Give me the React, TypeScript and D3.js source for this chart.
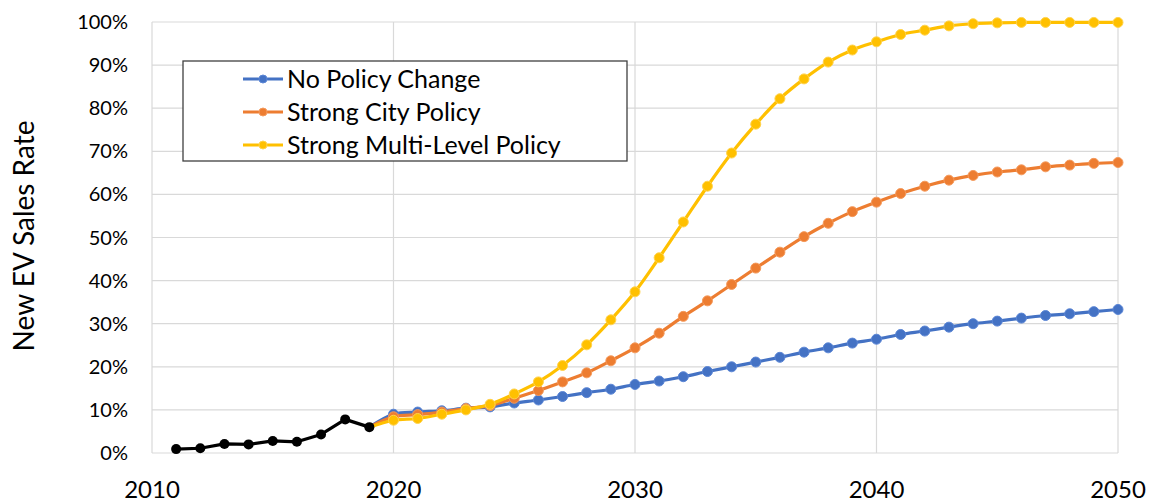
import React from "react";
import * as d3 from "d3";

const histYears = [2011, 2012, 2013, 2014, 2015, 2016, 2017, 2018, 2019];
const histValues = [0.9, 1.1, 2.1, 2.0, 2.8, 2.6, 4.3, 7.8, 6.0];

const projYears = [2019, 2020, 2021, 2022, 2023, 2024, 2025, 2026, 2027, 2028, 2029, 2030, 2031, 2032, 2033, 2034, 2035, 2036, 2037, 2038, 2039, 2040, 2041, 2042, 2043, 2044, 2045, 2046, 2047, 2048, 2049, 2050];

const noPolicy = [6.0, 9.0, 9.5, 9.8, 10.4, 10.7, 11.6, 12.3, 13.1, 14.0, 14.8, 15.9, 16.7, 17.7, 18.9, 20.0, 21.1, 22.2, 23.4, 24.4, 25.5, 26.4, 27.5, 28.3, 29.2, 30.0, 30.6, 31.3, 31.9, 32.3, 32.8, 33.3];
const cityPolicy = [6.0, 8.4, 8.9, 9.5, 10.3, 11.0, 12.7, 14.5, 16.5, 18.6, 21.4, 24.4, 27.8, 31.7, 35.3, 39.1, 42.9, 46.6, 50.2, 53.3, 56.0, 58.2, 60.2, 61.9, 63.3, 64.4, 65.2, 65.7, 66.4, 66.8, 67.2, 67.4];
const multiPolicy = [6.0, 7.6, 8.0, 9.0, 10.0, 11.3, 13.7, 16.5, 20.3, 25.1, 30.9, 37.4, 45.3, 53.6, 61.9, 69.6, 76.3, 82.2, 86.8, 90.7, 93.5, 95.4, 97.1, 98.1, 99.1, 99.6, 99.8, 99.9, 99.9, 99.9, 99.9, 99.9];

const xTicks = [2010, 2020, 2030, 2040, 2050];
const yTicks = [0, 10, 20, 30, 40, 50, 60, 70, 80, 90, 100];

const seriesNames = ["No Policy Change", "Strong City Policy", "Strong Multi-Level Policy"];
const seriesColors = ["#4472C4", "#ED7D31", "#FFC000"];
const markerStroke = ["#5b86d6", "#f59a5c", "#ffd34d"];

const W = 1151;
const H = 502;
const FONT = "Lato, 'Open Sans', sans-serif";

export default function App() {
  const x = d3.scaleLinear().domain([2010, 2050]).range([152, 1118]);
  const y = d3.scaleLinear().domain([0, 100]).range([453, 22]);

  const smooth = d3
    .line<[number, number]>()
    .x((d) => x(d[0]))
    .y((d) => y(d[1]))
    .curve(d3.curveCatmullRom.alpha(0.5));
  const straight = d3
    .line<[number, number]>()
    .x((d) => x(d[0]))
    .y((d) => y(d[1]));

  const all = [noPolicy, cityPolicy, multiPolicy];
  const hist: [number, number][] = histYears.map((yr, i) => [yr, histValues[i]]);

  return (
    <svg width={W} height={H} style={{ position: "absolute", left: 0, top: 0, background: "#fff" }}>
      <rect x={0} y={0} width={W} height={H} fill="#fff" />
      {/* grid */}
      {yTicks.map((t) => (
        <line key={"gy" + t} x1={x(2010)} x2={x(2050)} y1={y(t)} y2={y(t)} stroke="#d9d9d9" strokeWidth={1.2} />
      ))}
      {xTicks.map((t) => (
        <line key={"gx" + t} x1={x(t)} x2={x(t)} y1={y(0)} y2={y(100)} stroke="#d9d9d9" strokeWidth={1.2} />
      ))}
      {/* y tick labels */}
      {yTicks.map((t) => (
        <text key={"ty" + t} x={128} y={y(t)} dy="0.35em" textAnchor="end" fontFamily={FONT} fontSize={20} fill="#000">
          {t + "%"}
        </text>
      ))}
      {/* x tick labels */}
      {xTicks.map((t) => (
        <text key={"tx" + t} x={x(t)} y={498} textAnchor="middle" fontFamily={FONT} fontSize={24} fill="#000">
          {t}
        </text>
      ))}
      {/* y title */}
      <text
        transform={`translate(34,236) rotate(-90)`}
        textAnchor="middle"
        fontFamily={FONT}
        fontSize={28}
        fill="#000"
      >
        New EV Sales Rate
      </text>
      {/* series */}
      {all.map((vals, si) => {
        const pts: [number, number][] = projYears.map((yr, i) => [yr, vals[i]]);
        return (
          <g key={"s" + si}>
            <path d={smooth(pts) || ""} fill="none" stroke={seriesColors[si]} strokeWidth={3.2} strokeLinejoin="round" />
            {pts.slice(1).map((p, i) => (
              <circle key={i} cx={x(p[0])} cy={y(p[1])} r={5} fill={seriesColors[si]} stroke={markerStroke[si]} strokeWidth={1} />
            ))}
          </g>
        );
      })}
      {/* historical */}
      <path d={straight(hist) || ""} fill="none" stroke="#000" strokeWidth={3.2} strokeLinejoin="round" />
      {hist.map((p, i) => (
        <circle key={"h" + i} cx={x(p[0])} cy={y(p[1])} r={5} fill="#000" />
      ))}
      {/* legend */}
      <rect x={183} y={61} width={444} height={100} fill="#fff" stroke="#404040" strokeWidth={1.3} />
      {seriesNames.map((n, i) => {
        const cy = 79 + i * 33;
        return (
          <g key={"l" + i}>
            <line x1={243} x2={283} y1={cy} y2={cy} stroke={seriesColors[i]} strokeWidth={3.2} />
            <circle cx={263} cy={cy} r={4} fill={seriesColors[i]} stroke={markerStroke[i]} strokeWidth={1} />
            <text x={287} y={cy} dy="0.35em" fontFamily={FONT} fontSize={25} fill="#000">
              {n}
            </text>
          </g>
        );
      })}
    </svg>
  );
}
